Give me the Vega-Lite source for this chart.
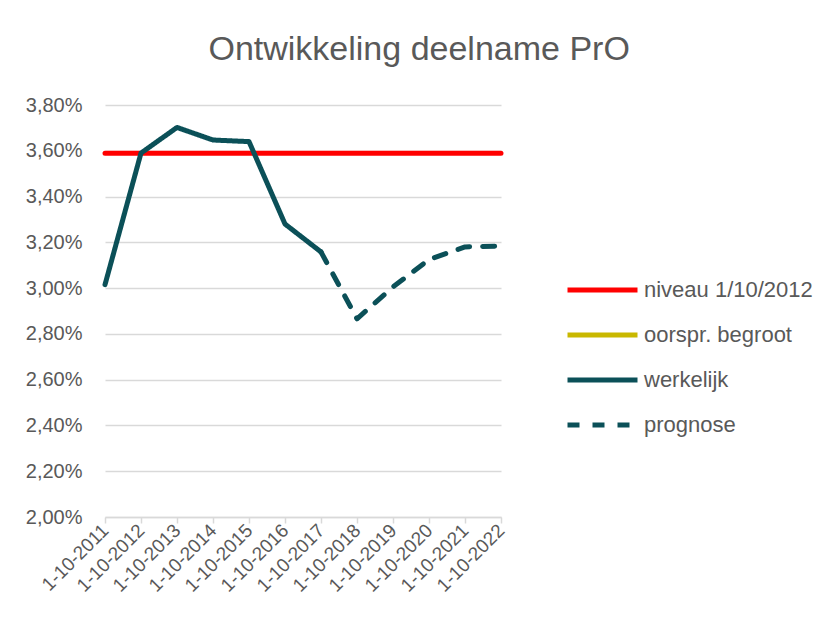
{
  "$schema": "https://vega.github.io/schema/vega-lite/v6.json",
  "width": 396,
  "height": 412,
  "autosize": {"type": "none"},
  "padding": {"left": 105, "top": 105, "right": 333, "bottom": 120},
  "background": "white",
  "config": {
    "locale": {"number": {"decimal": ",", "thousands": ".", "grouping": [3], "currency": ["€", ""]}},
    "view": {"stroke": null},
    "font": "Liberation Sans"
  },
  "title": {
    "text": "Ontwikkeling deelname PrO",
    "fontSize": 34,
    "fontWeight": "normal",
    "color": "#595959",
    "anchor": "middle",
    "frame": "bounds",
    "offset": 28
  },
  "data": {
    "values": [
      {"date": "1-10-2011", "series": "niveau 1/10/2012", "value": 0.03589},
      {"date": "1-10-2022", "series": "niveau 1/10/2012", "value": 0.03589},
      {"date": "1-10-2011", "series": "werkelijk", "value": 0.03015},
      {"date": "1-10-2012", "series": "werkelijk", "value": 0.03590},
      {"date": "1-10-2013", "series": "werkelijk", "value": 0.03702},
      {"date": "1-10-2014", "series": "werkelijk", "value": 0.03647},
      {"date": "1-10-2015", "series": "werkelijk", "value": 0.03640},
      {"date": "1-10-2016", "series": "werkelijk", "value": 0.03280},
      {"date": "1-10-2017", "series": "werkelijk", "value": 0.03158},
      {"date": "1-10-2017", "series": "prognose", "value": 0.03158},
      {"date": "1-10-2018", "series": "prognose", "value": 0.02866},
      {"date": "1-10-2019", "series": "prognose", "value": 0.03005},
      {"date": "1-10-2020", "series": "prognose", "value": 0.03125},
      {"date": "1-10-2021", "series": "prognose", "value": 0.03180},
      {"date": "1-10-2022", "series": "prognose", "value": 0.03184}
    ]
  },
  "mark": {"type": "line", "strokeWidth": 5, "strokeCap": "round", "strokeJoin": "round"},
  "encoding": {
    "x": {
      "field": "date",
      "type": "nominal",
      "sort": null,
      "scale": {
        "type": "point",
        "padding": 0,
        "domain": ["1-10-2011", "1-10-2012", "1-10-2013", "1-10-2014", "1-10-2015", "1-10-2016", "1-10-2017", "1-10-2018", "1-10-2019", "1-10-2020", "1-10-2021", "1-10-2022"]
      },
      "axis": {
        "title": null,
        "labelAngle": -45,
        "labelAlign": "right",
        "labelBaseline": "middle",
        "labelFontSize": 19,
        "labelColor": "#595959",
        "labelPadding": 4,
        "domainColor": "#d9d9d9",
        "domainWidth": 1.5,
        "tickColor": "#d9d9d9",
        "tickWidth": 1.5,
        "tickSize": 6,
        "grid": false
      }
    },
    "y": {
      "field": "value",
      "type": "quantitative",
      "scale": {"domain": [0.02, 0.038], "nice": false, "zero": false},
      "axis": {
        "title": null,
        "format": ".2%",
        "values": [0.02, 0.022, 0.024, 0.026, 0.028, 0.03, 0.032, 0.034, 0.036, 0.038],
        "domain": false,
        "ticks": false,
        "labelFontSize": 20,
        "labelColor": "#595959",
        "labelPadding": 23,
        "gridColor": "#d9d9d9",
        "gridWidth": 1.5
      }
    },
    "color": {
      "field": "series",
      "type": "nominal",
      "scale": {
        "domain": ["niveau 1/10/2012", "oorspr. begroot", "werkelijk", "prognose"],
        "range": ["#ff0000", "#c9b800", "#0b5058", "#0b5058"]
      },
      "legend": {
        "title": null,
        "orient": "none",
        "legendX": 460,
        "legendY": 175,
        "symbolType": "stroke",
        "symbolSize": 4900,
        "symbolStrokeWidth": 5,
        "clipHeight": 20,
        "labelFontSize": 22,
        "labelLimit": 400,
        "labelColor": "#595959",
        "labelOffset": 4,
        "rowPadding": 23
      }
    },
    "strokeDash": {
      "field": "series",
      "type": "nominal",
      "scale": {
        "domain": ["niveau 1/10/2012", "oorspr. begroot", "werkelijk", "prognose"],
        "range": [[1, 0], [1, 0], [1, 0], [12, 13]]
      },
      "legend": null
    },
    "order": {"value": 0}
  }
}
